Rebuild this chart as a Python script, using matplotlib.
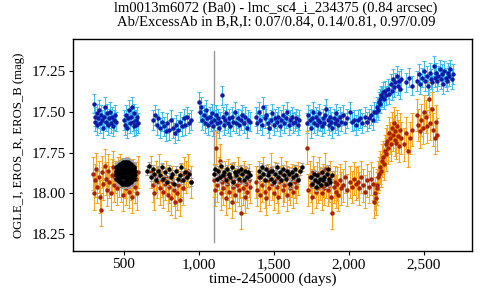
import matplotlib
matplotlib.use("Agg")
import matplotlib.pyplot as plt
from matplotlib.ticker import FuncFormatter, FixedLocator

# ---------------- data ----------------
B_t = [298,305,311,318,324,331,337,344,350,357,363,370,376,383,389,396,402,409,415,422,428,435,441,448,
       500,506,513,519,526,532,539,545,552,558,565,571,578,584,591,597,
       692,705,718,730,742,754,766,778,790,802,814,826,838,850,862,874,886,898,910,922,936,948,
       1000,1008,1016,1024,1032,1040,1048,1056,1064,1072,1080,1088,1096,1104,1112,1120,1128,1136,1144,1152,1160,1168,1176,1184,1192,
       1200,1210,1220,1230,1240,1250,1260,1270,1280,1290,1300,1310,1320,1330,1342,
       1380,1390,1400,1410,1420,1430,1440,1450,1460,1470,1480,1490,1500,1510,1520,1530,1540,1550,1560,1570,1580,1590,1600,1610,1620,1630,1640,1650,1660,1668,
       1722,1730,1738,1746,1754,1762,1770,1778,1786,1794,1802,1810,1818,1826,1834,1842,1850,1858,1866,1874,1882,1890,1898,1906,1914,1922,1930,
       1940,1950,1960,1975,1990,2005,2020,2035,2048,
       2062,2075,2090,2105,2120,2135,2150,2160,2170,
       2178,2185,2192,2198,2204,2210,2216,2222,2228,2234,2240,2250,2260,2270,
       2280,2288,2295,2302,2310,2318,2325,2332,2340,2348,
       2380,2400,2418,
       2455,2465,2475,2490,2500,2510,2520,2530,2540,2548,2556,2564,2572,2580,2588,2596,2604,2612,2620,2628,2636,2644,2652,2660,2668,2676,2684,2695]
B_mag = [17.45,17.53,17.56,17.51,17.58,17.54,17.49,17.57,17.52,17.55,17.60,17.53,17.47,17.56,17.51,17.58,17.54,17.50,17.57,17.53,17.59,17.55,17.52,17.56,
         17.55,17.58,17.52,17.60,17.54,17.49,17.57,17.53,17.47,17.56,17.59,17.51,17.55,17.58,17.53,17.57,
         17.55,17.52,17.58,17.54,17.60,17.56,17.59,17.62,17.57,17.61,17.55,17.60,17.63,17.58,17.61,17.56,17.59,17.54,17.58,17.53,17.57,17.55,
         17.44,17.50,17.47,17.55,17.52,17.57,17.49,17.54,17.58,17.53,17.56,17.51,17.59,17.55,17.52,17.57,17.54,17.60,17.56,17.40,17.53,17.58,17.55,17.51,17.57,
         17.54,17.59,17.53,17.56,17.50,17.57,17.54,17.58,17.55,17.52,17.57,17.53,17.60,17.55,17.56,
         17.53,17.57,17.50,17.55,17.58,17.47,17.54,17.52,17.57,17.60,17.55,17.51,17.58,17.54,17.56,17.53,17.59,17.55,17.52,17.57,17.54,17.50,17.58,17.55,17.53,17.57,17.56,17.54,17.58,17.55,
         17.57,17.52,17.55,17.60,17.54,17.50,17.57,17.53,17.58,17.55,17.51,17.56,17.59,17.54,17.57,17.52,17.48,17.55,17.58,17.53,17.56,17.60,17.54,17.57,17.51,17.55,17.58,
         17.53,17.56,17.52,17.57,17.54,17.50,17.56,17.55,17.58,
         17.55,17.54,17.57,17.53,17.56,17.54,17.52,17.55,17.50,
         17.50,17.47,17.49,17.44,17.42,17.45,17.40,17.41,17.38,17.42,17.37,17.40,17.36,17.39,
         17.33,17.37,17.30,17.35,17.32,17.28,17.34,17.31,17.36,17.30,
         17.32,17.29,17.34,
         17.31,17.27,17.33,17.29,17.25,17.31,17.28,17.34,17.26,17.30,17.32,17.22,17.29,17.26,17.31,17.28,17.24,17.30,17.27,17.33,17.25,17.29,17.31,17.26,17.28,17.24,17.30,17.27]
B_err = 0.06

R_t = [292,300,308,316,324,332,340,348,356,364,372,380,388,396,404,412,420,428,436,444,452,460,468,476,
       484,492,500,508,516,524,532,540,548,556,564,572,580,588,596,
       682,692,702,712,722,732,742,752,762,772,782,792,802,812,822,832,842,852,862,872,882,892,902,915,930,945,
       1100,1108,1116,1124,1132,1140,1148,1156,1164,1172,1180,1188,1196,1204,1212,1220,1228,1236,1244,1252,1260,1268,1276,1284,1292,1300,1308,1316,1324,1332,1340,
       1380,1390,1400,1410,1420,1430,1440,1450,1460,1470,1480,1490,1500,1510,1520,1530,1540,1550,1560,1570,1580,1590,1600,1610,1620,1630,1640,1650,1660,
       1722,1730,1738,1746,1754,1762,1770,1778,1786,1794,1802,1810,1818,1826,1834,1842,1850,1858,1866,1874,1882,1890,1898,1906,1914,1922,1930,
       1940,1950,1960,1975,1990,2005,2020,2035,2048,
       2058,2070,2082,2095,2108,2120,2132,2145,2158,
       2165,2172,2178,2184,2190,2196,2202,2208,2214,2220,2226,2232,2238,2244,2250,
       2256,2262,2268,2274,2280,2286,2292,2298,2304,2310,2316,2322,2328,2334,2340,2348,
       2368,2380,2395,2410,2420,
       2452,2462,2472,2482,2492,2502,2512,2522,2532,2542,2552,2562,2572,2582,2590]
R_mag = [17.88,18.00,17.92,17.85,17.96,17.90,18.02,18.10,17.87,17.94,17.83,17.91,17.98,17.86,17.93,18.00,17.89,17.84,17.95,17.90,17.97,17.88,17.92,17.86,
         17.95,18.01,17.90,17.93,17.97,17.88,17.99,17.92,17.94,18.02,17.89,17.96,17.91,18.00,17.87,
         17.87,17.95,18.00,17.90,17.93,17.86,17.97,17.92,17.99,17.94,17.90,18.01,17.96,18.03,17.93,17.98,18.05,18.00,17.95,18.04,17.92,17.97,17.88,17.90,17.86,17.93,
         17.92,17.98,17.72,17.95,17.88,17.80,18.00,17.93,17.97,17.90,18.03,17.94,17.89,17.99,17.92,18.05,17.96,17.91,18.01,17.95,17.88,17.98,17.93,18.12,17.97,17.90,18.02,17.94,17.99,17.92,17.96,
         17.93,17.98,17.90,18.01,17.95,17.88,17.99,18.03,17.92,17.97,17.85,17.94,18.00,17.91,17.96,18.02,17.93,17.88,17.98,17.95,17.90,18.01,17.94,17.97,17.92,17.99,17.93,17.96,17.91,
         17.72,17.98,17.90,17.95,18.02,17.87,17.93,17.99,17.91,17.96,17.88,17.94,18.00,17.92,17.97,17.85,17.93,17.98,17.95,17.90,18.02,18.12,17.96,17.93,17.99,17.94,18.01,
         17.92,17.97,17.95,17.90,17.98,17.93,17.96,17.91,17.94,
         17.93,17.97,17.90,17.95,17.99,17.92,17.96,17.91,17.94,
         18.05,18.00,18.03,17.95,17.97,17.90,17.88,17.84,17.86,17.80,17.78,17.82,17.74,17.76,17.70,
         17.68,17.72,17.63,17.66,17.70,17.60,17.64,17.57,17.67,17.62,17.69,17.59,17.65,17.71,17.61,17.66,
         17.70,17.63,17.74,17.66,17.61,
         17.52,17.58,17.62,17.55,17.60,17.50,17.53,17.59,17.42,17.57,17.48,17.61,17.66,17.56,17.64]
R_err = 0.10

I_t = [445,445,455,455,465,465,465,475,475,475,485,485,485,495,495,495,495,505,505,505,515,515,515,515,
       525,525,525,535,535,535,535,545,545,545,555,555,555,565,565,575,575,
       450,460,470,480,490,500,510,520,530,540,550,560,570,
       450,460,470,480,490,500,510,520,530,540,550,560,570,
       450,460,470,480,490,500,510,520,530,540,550,560,570,
       460,470,480,490,500,510,520,530,540,550,560,
       460,470,480,490,500,510,520,530,540,550,560,
       655,668,680,692,704,716,728,740,752,764,776,788,800,812,824,836,848,860,872,884,896,908,920,935,950,
       1100,1110,1120,1130,1140,1150,1160,1170,1180,1190,1200,1210,1220,1230,1240,1250,1260,1270,1280,1290,1300,1310,1320,1330,1340,
       1400,1410,1420,1430,1440,1450,1460,1470,1480,1490,1500,1510,1520,1530,1540,1550,1560,1570,1580,1590,1600,1610,1620,1630,1640,1650,1660,1672,1685,
       1748,1756,1764,1772,1780,1788,1796,1804,1812,1820,1828,1836,1844,1852,1860,1868,1876,1884]
I_mag = [17.86,17.89,17.84,17.91,17.83,17.92,17.87,17.82,17.93,17.86,17.815,17.94,17.88,17.81,17.94,17.85,17.90,17.81,17.94,17.87,17.81,17.94,17.84,17.90,
         17.81,17.94,17.87,17.815,17.935,17.86,17.90,17.82,17.93,17.87,17.83,17.92,17.86,17.84,17.91,17.86,17.89,
         17.875,17.875,17.89,17.85,17.875,17.83,17.875,17.92,17.875,17.84,17.875,17.89,17.875,
         17.84,17.83,17.825,17.82,17.82,17.82,17.82,17.82,17.82,17.825,17.83,17.835,17.845,
         17.91,17.92,17.925,17.93,17.93,17.93,17.93,17.93,17.93,17.925,17.92,17.915,17.905,
         17.855,17.85,17.85,17.85,17.85,17.85,17.85,17.85,17.85,17.85,17.855,
         17.895,17.90,17.90,17.90,17.90,17.90,17.90,17.90,17.90,17.90,17.895,
         17.86,17.83,17.90,17.85,17.88,17.92,17.86,17.89,17.84,17.91,17.87,17.93,17.85,17.90,17.88,17.94,17.86,17.91,17.89,17.84,17.92,17.87,17.90,17.88,17.93,
         17.88,17.85,17.91,17.86,17.90,17.83,17.89,17.87,17.92,17.85,17.88,17.90,17.84,17.93,17.87,17.89,17.86,17.91,17.85,17.88,17.92,17.86,17.90,17.87,17.89,
         17.86,17.90,17.84,17.88,17.92,17.85,17.89,17.87,17.91,17.86,17.93,17.88,17.84,17.90,17.87,17.92,17.85,17.89,17.91,17.86,17.88,17.94,17.87,17.90,17.85,17.89,17.92,17.86,17.84,
         17.90,17.94,17.88,17.92,17.96,17.89,17.93,17.91,17.95,17.87,17.92,17.90,17.94,17.88,17.85,17.91,17.93,17.89]
I_err = 0.025

x_ticks = [500, 1000, 1500, 2000, 2500]
y_ticks = [17.25, 17.50, 17.75, 18.00, 18.25]
event_t = 1100

title_text = "lm0013m6072 (Ba0) - lmc_sc4_i_234375 (0.84 arcsec)\nAb/ExcessAb in B,R,I: 0.07/0.84, 0.14/0.81, 0.97/0.09"
x_label = "time-2450000 (days)"
y_label = "OGLE_I, EROS_R, EROS_B (mag)"

# ---------------- plot ----------------
plt.rcParams['font.family'] = ['Liberation Serif', 'DejaVu Serif']

fig = plt.figure(figsize=(4.8, 3.0), dpi=100)
ax = fig.add_axes([0.152, 0.163, 0.831, 0.707])

ms = 3.2
ax.errorbar(B_t, B_mag, yerr=B_err, fmt='none', ecolor='#40bdee', elinewidth=0.8, capsize=1.5, capthick=0.8, zorder=2)
ax.plot(B_t, B_mag, 'o', color='#0c1aa6', ms=ms, mew=0, zorder=3)
ax.errorbar(R_t, R_mag, yerr=R_err, fmt='none', ecolor='#f6a623', elinewidth=0.8, capsize=1.5, capthick=0.8, zorder=2)
ax.plot(R_t, R_mag, 'o', color='#a82200', ms=ms, mew=0, zorder=3)
ax.errorbar(I_t, I_mag, yerr=I_err, fmt='none', ecolor='#a0a0a0', elinewidth=0.8, capsize=1.5, capthick=0.8, zorder=4)
ax.plot(I_t, I_mag, 'o', color='black', ms=ms, mew=0, zorder=5)

ax.plot([event_t, event_t], [17.13, 18.30], color='#999999', lw=1.0, zorder=1)

ax.set_xlim(161, 2819)
ax.set_ylim(18.354, 17.054)
ax.xaxis.set_major_locator(FixedLocator(x_ticks))
ax.yaxis.set_major_locator(FixedLocator(y_ticks))
ax.xaxis.set_major_formatter(FuncFormatter(lambda v, p: f"{int(v):,}"))
ax.yaxis.set_major_formatter(FuncFormatter(lambda v, p: f"{v:.2f}"))
ax.tick_params(axis='both', labelsize=11, length=3, width=0.8, pad=2)
for s in ax.spines.values():
    s.set_linewidth(1.0)

ax.set_xlabel(x_label, fontsize=11, labelpad=1)
ax.set_ylabel(y_label, fontsize=9.2, labelpad=5)
fig.text(0.575, 0.995, title_text, ha='center', va='top', fontsize=10.5, linespacing=1.05)

fig.savefig("out.png", dpi=100)
